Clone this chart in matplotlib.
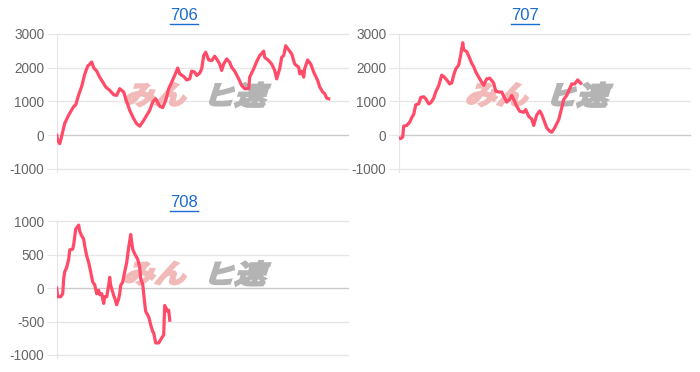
import numpy as np
from matplotlib import pyplot as plt
from matplotlib.lines import Line2D
from matplotlib.textpath import TextPath
from matplotlib.patches import PathPatch
from matplotlib.font_manager import FontProperties
from matplotlib.transforms import Affine2D, IdentityTransform

plt.rcParams['font.family'] = ['Liberation Sans', 'Noto Sans CJK JP', 'DejaVu Sans']

# 706
x706 = [0, 1, 3, 4, 6, 8, 12, 14, 17, 19, 22, 25, 28, 31, 33, 35, 37, 40, 43, 46, 49, 53, 57, 60,
        63, 67, 69, 73, 77, 80, 83, 87, 90, 93, 96, 99, 103, 106, 109, 112, 115, 118, 121, 123,
        127, 130, 133, 135, 138, 140, 143, 145, 147, 149, 152, 155, 158, 160, 163, 165, 167, 170,
        173, 175, 178, 182, 185, 188, 192, 193, 197, 200, 203, 207, 208, 212, 215, 218, 220, 223,
        225, 227, 229, 232, 235, 238, 242, 243, 245, 247, 248, 251, 254, 257, 261, 263, 266, 268,
        270, 272]
y706 = [0, -150, -250, -150, 100, 350, 600, 700, 850, 900, 1200, 1450, 1800, 2050, 2100, 2170,
        2000, 1900, 1720, 1580, 1430, 1330, 1200, 1180, 1380, 1280, 1080, 740, 490, 340, 270, 440,
        590, 740, 980, 1080, 860, 820, 1030, 1380, 1570, 1770, 1990, 1820, 1740, 1640, 1670, 1900,
        1870, 1770, 1840, 1970, 2360, 2460, 2230, 2210, 2340, 2260, 2110, 1920, 2110, 2260, 2160,
        2010, 1900, 1670, 1470, 1380, 1380, 1720, 1970, 2180, 2360, 2490, 2310, 2210, 2110, 1920,
        1670, 1970, 2310, 2360, 2650, 2530, 2410, 2110, 2010, 1820, 1900, 1720, 1970, 2230, 2110,
        1870, 1620, 1430, 1280, 1230, 1100, 1080]

# 707
x707 = [0, 2, 4, 5, 8, 11, 13, 15, 17, 20, 22, 25, 27, 30, 32, 35, 37, 40, 43, 45, 48, 51, 53,
        55, 57, 60, 62, 64, 65, 68, 71, 73, 75, 77, 80, 83, 85, 88, 91, 93, 95, 97, 100, 103, 105,
        108, 111, 113, 115, 118, 121, 125, 127, 130, 133, 135, 138, 141, 143, 145, 148, 151, 153,
        156, 160, 163, 165, 168, 171, 173, 176, 179, 181, 182]
y707 = [-80, -100, -50, 270, 290, 390, 520, 620, 900, 930, 1120, 1140, 1080, 930, 960, 1100, 1280,
        1470, 1780, 1740, 1640, 1520, 1550, 1780, 1960, 2080, 2380, 2740, 2530, 2480, 2280, 2130,
        2030, 1880, 1720, 1570, 1480, 1670, 1690, 1620, 1540, 1310, 1280, 1280, 1160, 980, 1060,
        1180, 1060, 860, 710, 680, 760, 560, 480, 290, 600, 720, 620, 460, 220, 120, 90, 220, 460,
        810, 1060, 1180, 1380, 1520, 1520, 1640, 1570, 1540]

# 708
x708 = [0, 1, 3, 4, 6, 7, 8, 10, 12, 13, 16, 17, 19, 22, 23, 25, 27, 28, 30, 32, 34, 36, 38, 40,
        42, 43, 45, 47, 48, 50, 52, 53, 54, 57, 58, 60, 62, 63, 64, 66, 68, 70, 72, 73, 74, 76, 78,
        81, 83, 84, 86, 88, 89, 92, 94, 96, 97, 99, 102, 104, 107, 108, 111, 112, 113]
y708 = [0, -130, -130, -130, -85, 140, 240, 310, 430, 570, 580, 650, 880, 940, 850, 780, 730, 630,
        480, 380, 240, 90, 50, -85, -35, -100, -85, -230, -130, -130, 40, 160, 40, -110, -150,
        -250, -160, -85, 40, 90, 240, 380, 610, 700, 800, 580, 510, 430, 310, 140, 60, -230, -350,
        -430, -550, -650, -670, -820, -820, -770, -700, -260, -350, -330, -480]

titles = ['706', '707', '708']
series = [(x706, y706), (x707, y707), (x708, y708)]
yticks = [[-1000, 0, 1000, 2000, 3000], [-1000, 0, 1000, 2000, 3000], [-1000, -500, 0, 500, 1000]]

line_color = '#ff4a68'
grid_color = '#e6e6e6'

fig = plt.figure(figsize=(7, 3.72), dpi=100)
rects = [[0.081, 0.5457, 0.4157, 0.363],
         [0.5696, 0.5457, 0.4157, 0.363],
         [0.081, 0.0457, 0.4157, 0.360]]
title_pos = [(0.263, 0.958), (0.75, 0.958), (0.263, 0.455)]
wm_font = FontProperties(family='Noto Sans CJK JP', weight='bold')


def watermark(ax, s, fx, fy, color):
    # slanted logo text, placed in pixel space
    tp = TextPath((0, 0), s, size=33, prop=wm_font)
    bb = tp.get_extents()
    px, py = ax.transAxes.transform((fx, fy))
    tr = (Affine2D().translate(-(bb.x0 + bb.x1) / 2, -(bb.y0 + bb.y1) / 2)
          .scale(0.95, 0.8).skew_deg(18, 0).translate(px, py))
    p = PathPatch(tr.transform_path(tp), facecolor=color, edgecolor=color, lw=1.6,
                  transform=IdentityTransform(), zorder=2)
    ax.add_artist(p)


axes = []
for i in range(3):
    ax = fig.add_axes(rects[i])
    axes.append(ax)
    xs, ys = series[i]
    ax.plot(xs, ys, color=line_color, lw=2.3, solid_joinstyle='round', zorder=3)
    ax.set_xlim(0, 291)
    yt = yticks[i]
    ax.set_ylim(yt[0], yt[-1])
    ax.set_yticks(yt)
    ax.set_yticklabels([str(v) for v in yt], fontsize=9.8, color='#666666')
    ax.set_xticks([])
    for v in yt:
        c = '#cccccc' if v == 0 else grid_color
        ax.axhline(v, color=c, lw=1, zorder=1, clip_on=False)
    for s in ['top', 'right', 'bottom']:
        ax.spines[s].set_visible(False)
    ax.spines['left'].set_color(grid_color)
    ax.spines['left'].set_bounds(yt[0] - (yt[-1] - yt[0]) * 0.02, yt[-1])
    ax.tick_params(axis='y', length=7, color=grid_color, pad=2)
    tx, ty = title_pos[i]
    fig.text(tx, ty, titles[i], fontsize=12, color='#1a6bd0', ha='center', va='center')

for i, ax in enumerate(axes):
    wy = 0.55 if i < 2 else 0.61
    watermark(ax, 'みん', 0.345, wy, '#f2b9b9')
    watermark(ax, 'ヒ速', 0.63, wy, '#b4b4b4')

fig.canvas.draw()
r = fig.canvas.get_renderer()
for t in fig.texts:
    bb = t.get_window_extent(r).transformed(fig.transFigure.inverted())
    fig.add_artist(Line2D([bb.x0, bb.x1], [bb.y0 - 0.002, bb.y0 - 0.002],
                          transform=fig.transFigure, color='#1a6bd0', lw=1))

plt.savefig('out.png', dpi=100)
